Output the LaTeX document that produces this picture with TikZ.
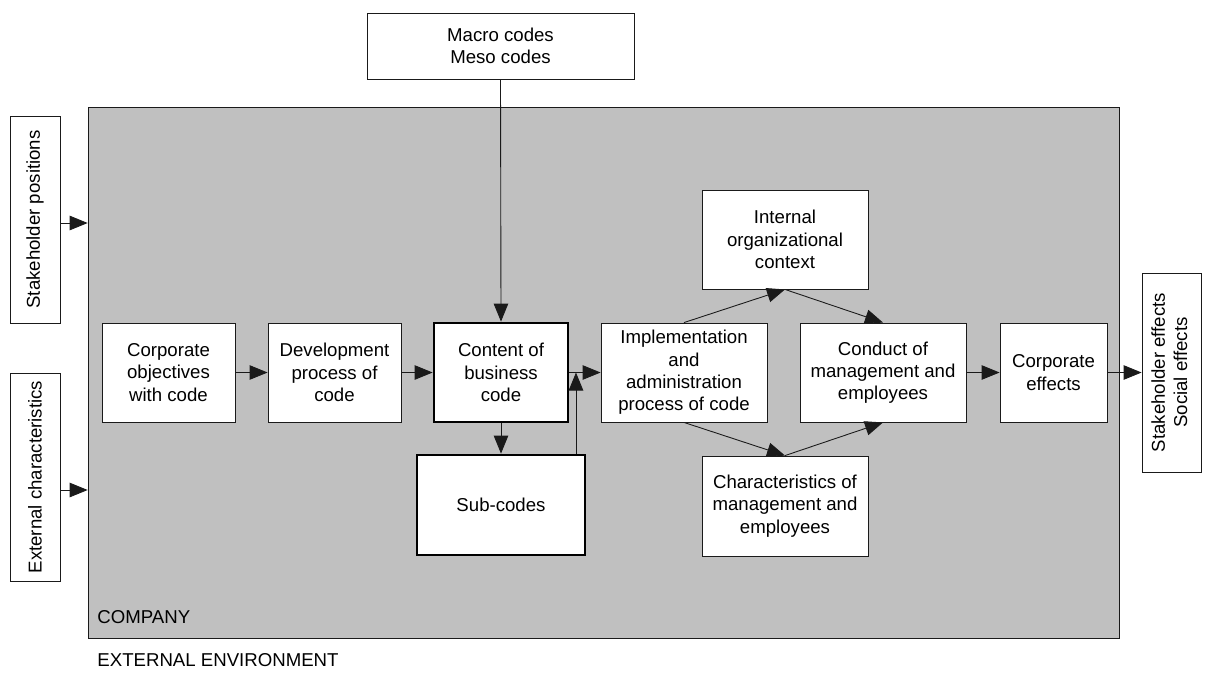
\documentclass[tikz,border=0pt]{standalone}
\usepackage{fontspec}
\setmainfont{Liberation Sans}
\usetikzlibrary{arrows.meta}
\definecolor{companygray}{HTML}{C0C0C0}
\definecolor{edge}{HTML}{1A1A1A}
\begin{document}
\begin{tikzpicture}[x=0.02cm, y=-0.02cm,
  font=\fontsize{10.6}{12.7}\selectfont,
  line width=0.5pt,
  box/.style={draw=edge, fill=white, align=center, inner sep=1pt, line width=0.5pt},
  keybox/.style={box, draw=black, line width=1.6pt},
  rowbox/.style={box, minimum height=1.98cm},
  arr/.style={-{Triangle[length=0.36cm, width=0.29cm]}, draw=edge, line width=0.5pt},
  plain/.style={anchor=west, inner sep=0pt}
]
\useasboundingbox (0,0) rectangle (1206,680);

% the company frame
\node[draw=edge, fill=companygray, line width=0.5pt, inner sep=0pt,
      minimum width=20.64cm, minimum height=10.62cm] (company) at (604,372.5) {};
\node[plain] (complabel) at (97,617) {COMPANY};
\node[plain] (envlabel) at (97,660) {EXTERNAL ENVIRONMENT};

% outside influences
\node[box, minimum width=5.34cm, minimum height=1.32cm] (macro) at (500.5,46)
  {Macro codes\\Meso codes};
\node[box, minimum width=1cm, minimum height=4.14cm] (stake) at (35,219.5)
  {\rotatebox{90}{Stakeholder positions}};
\node[box, minimum width=1cm, minimum height=4.16cm] (extchar) at (35,477)
  {\rotatebox{90}{External characteristics}};
\node[box, minimum width=1.18cm, minimum height=3.98cm] (effects) at (1171.5,372.5)
  {\rotatebox{90}{\begin{tabular}{@{}c@{}}Stakeholder effects\\Social effects\end{tabular}}};

% main chain inside the company
\node[rowbox, minimum width=2.66cm] (objectives) at (168.5,372.5)
  {Corporate\\objectives\\with code};
\node[rowbox, minimum width=2.66cm] (develop) at (334.5,372.5)
  {Development\\process of\\code};
\node[rowbox, keybox, minimum width=2.68cm] (content) at (501,372.5)
  {Content of\\business\\code};
\node[rowbox, minimum width=3.32cm] (implement) at (684,372.5)
  {Implementation\\and\\administration\\process of code};
\node[rowbox, minimum width=3.32cm] (conduct) at (883,372.5)
  {Conduct of\\management and\\employees};
\node[rowbox, minimum width=2.14cm] (corpeff) at (1053.5,372.5)
  {Corporate\\effects};

\node[keybox, minimum width=3.36cm, minimum height=2cm] (subcodes) at (501,505)
  {Sub-codes};
\node[box, minimum width=3.32cm, minimum height=1.98cm] (internal) at (785,239.5)
  {Internal\\organizational\\context};
\node[box, minimum width=3.32cm, minimum height=2cm] (charact) at (785,506)
  {Characteristics of\\management and\\employees};

% connectors
\coordinate (sp) at (60,223);
\coordinate (ec) at (60,490);
\draw[arr] (sp -| stake.east) -- (sp -| company.west);
\draw[arr] (ec -| extchar.east) -- (ec -| company.west);

\draw[arr] (macro.south) -- (content.north);
\draw[arr] (objectives.east) -- (develop.west);
\draw[arr] (develop.east) -- (content.west);
\draw[arr] (content.east) -- (implement.west);
\draw[arr] (content.south) -- (subcodes.north);
\draw[arr] ([xshift=1.5cm]subcodes.north) -- ([xshift=1.5cm]subcodes.north |- content.east);

\draw[arr] (implement.north) -- (internal.south);
\draw[arr] (internal.south) -- (conduct.north);
\draw[arr] (implement.south) -- (charact.north);
\draw[arr] (charact.north) -- (conduct.south);

\draw[arr] (conduct.east) -- (corpeff.west);
\draw[arr] (corpeff.east) -- (effects.west);
\end{tikzpicture}
\end{document}
